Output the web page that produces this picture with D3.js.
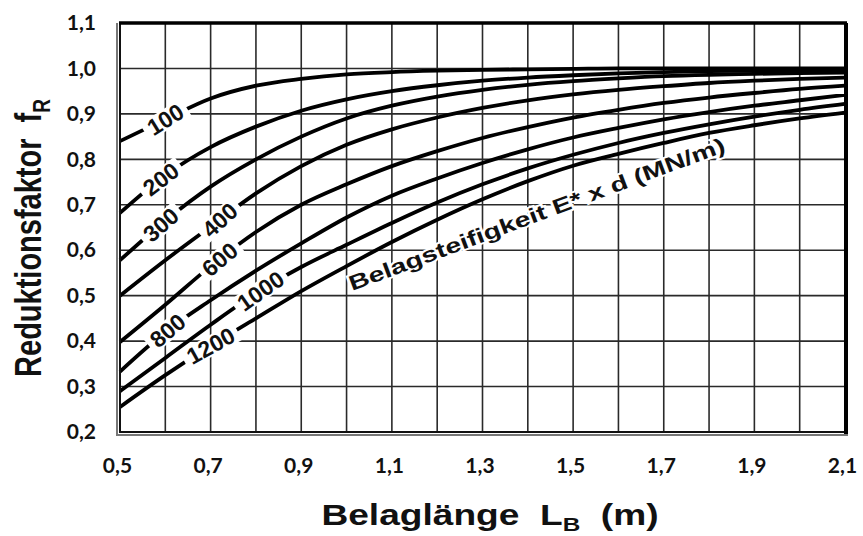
<!DOCTYPE html>
<html>
<head>
<meta charset="utf-8">
<script src="https://cdn.jsdelivr.net/npm/d3@7"></script>
<style>
 body { margin: 0; background: #fff; }
 svg { display: block; }
 .axis text { font-family: Lato, sans-serif; font-weight: bold; font-size: 21px; fill: #111; }
 .title { font-family: "Liberation Sans", Arial, sans-serif; font-weight: bold; fill: #111; }
</style>
</head>
<body>
<svg width="863" height="536"></svg>
<script>

// Belaglänge L_B (m), read every 0.1 m

var lengths = [0.5, 0.6, 0.7, 0.8, 0.9, 1.0, 1.1, 1.2, 1.3, 1.4, 1.5, 1.6, 1.7, 1.8, 1.9, 2.0, 2.1];

// Reduktionsfaktor f_R for each Belagsteifigkeit E* x d (MN/m).

var fR100  = [0.840, 0.888, 0.934, 0.962, 0.977, 0.987, 0.992, 0.995, 0.997, 0.998, 0.999, 1.000, 1.000, 1.000, 1.000, 1.000, 1.000];
var fR200  = [0.682, 0.765, 0.827, 0.872, 0.907, 0.932, 0.950, 0.963, 0.973, 0.980, 0.985, 0.989, 0.992, 0.994, 0.995, 0.996, 0.997];
var fR300  = [0.578, 0.665, 0.740, 0.800, 0.850, 0.890, 0.918, 0.938, 0.953, 0.964, 0.972, 0.978, 0.983, 0.986, 0.988, 0.990, 0.991];
var fR400  = [0.500, 0.578, 0.652, 0.725, 0.785, 0.832, 0.866, 0.892, 0.913, 0.930, 0.943, 0.953, 0.961, 0.968, 0.973, 0.977, 0.980];
var fR600  = [0.398, 0.480, 0.565, 0.640, 0.700, 0.745, 0.785, 0.818, 0.847, 0.871, 0.892, 0.909, 0.924, 0.936, 0.946, 0.955, 0.962];
var fR800  = [0.333, 0.420, 0.490, 0.555, 0.615, 0.672, 0.720, 0.758, 0.792, 0.822, 0.848, 0.869, 0.888, 0.904, 0.918, 0.930, 0.942];
var fR1000 = [0.290, 0.363, 0.436, 0.505, 0.563, 0.612, 0.660, 0.705, 0.745, 0.780, 0.810, 0.836, 0.858, 0.877, 0.894, 0.909, 0.922];
var fR1200 = [0.255, 0.325, 0.390, 0.450, 0.510, 0.565, 0.618, 0.667, 0.712, 0.752, 0.786, 0.812, 0.836, 0.858, 0.875, 0.890, 0.903];

var stiffness = ['100', '200', '300', '400', '600', '800', '1000', '1200'];
var curves = [fR100, fR200, fR300, fR400, fR600, fR800, fR1000, fR1200];

// Where each curve carries its label (L_B in m) and how the label is tilted.

var labelAt = [0.60, 0.59, 0.59, 0.72, 0.72, 0.605, 0.81, 0.70];
var labelAngle = [-32, -37, -41, -42, -40, -40, -35, -29];

// Tick labels.

var xTicks = [0.5, 0.7, 0.9, 1.1, 1.3, 1.5, 1.7, 1.9, 2.1];
var yTicks = [0.2, 0.3, 0.4, 0.5, 0.6, 0.7, 0.8, 0.9, 1.0, 1.1];
var xGrid = d3.range(0, 17).map(function(i) { return 0.5 + i / 10; });
var yGrid = d3.range(0, 10).map(function(i) { return 0.2 + i / 10; });

var series = stiffness.map(function(s, i) {
 return {
  name: s,
  values: lengths.map(function(l, j) { return {l: l, f: curves[i][j]}; }),
  at: labelAt[i],
  angle: labelAngle[i]
 };
});

var svg = d3.select('svg');
var plot = {left: 120, right: 845, top: 23, bottom: 432};

var x = d3.scaleLinear().domain([0.5, 2.1]).range([plot.left, plot.right]);
var y = d3.scaleLinear().domain([0.2, 1.1]).range([plot.bottom, plot.top]);

var comma = d3.formatLocale({decimal: ',', thousands: '.', grouping: [3], currency: ['', '']}).format('.1f');

// Grid

svg.append('g')
 .selectAll('line')
 .data(xGrid)
 .enter().append('line')
 .attr('x1', function(d) { return x(d); })
 .attr('x2', function(d) { return x(d); })
 .attr('y1', plot.top)
 .attr('y2', plot.bottom)
 .attr('stroke', '#2a2a2a')
 .attr('stroke-width', 1.6);

svg.append('g')
 .selectAll('line')
 .data(yGrid)
 .enter().append('line')
 .attr('x1', plot.left)
 .attr('x2', plot.right)
 .attr('y1', function(d) { return y(d); })
 .attr('y2', function(d) { return y(d); })
 .attr('stroke', '#2a2a2a')
 .attr('stroke-width', 1.6);

// Curves

var line = d3.line()
 .x(function(d) { return x(d.l); })
 .y(function(d) { return y(d.f); })
 .curve(d3.curveMonotoneX);

svg.append('g')
 .selectAll('path')
 .data(series)
 .enter().append('path')
 .attr('d', function(d) { return line(d.values); })
 .attr('fill', 'none')
 .attr('stroke', '#000')
 .attr('stroke-width', 3.8);

// Frame

svg.append('rect')
 .attr('x', plot.left).attr('y', plot.top)
 .attr('width', plot.right - plot.left).attr('height', plot.bottom - plot.top)
 .attr('fill', 'none').attr('stroke', '#111').attr('stroke-width', 2);
svg.append('line')
 .attr('x1', plot.left - 1).attr('x2', plot.right + 2).attr('y1', plot.top).attr('y2', plot.top)
 .attr('stroke', '#000').attr('stroke-width', 3.5);
svg.append('line')
 .attr('x1', plot.right + 1).attr('x2', plot.right + 1).attr('y1', plot.top).attr('y2', plot.bottom + 2)
 .attr('stroke', '#000').attr('stroke-width', 4);
svg.append('path')
 .attr('d', 'M' + (plot.left - 3) + ',' + plot.top + 'V' + (plot.bottom + 3) + 'H' + (plot.right + 3))
 .attr('fill', 'none').attr('stroke', '#777').attr('stroke-width', 2);

// Curve labels, sitting on the curve with a white gap round them

var valueAt = function(s, l) {
 var i = d3.bisector(function(d) { return d.l; }).left(s.values, l);
 var a = s.values[Math.max(i - 1, 0)], b = s.values[i];
 if (b.l === a.l) return b.f;
 return a.f + (b.f - a.f) * (l - a.l) / (b.l - a.l);
};

var labels = svg.append('g')
 .selectAll('g')
 .data(series)
 .enter().append('g')
 .attr('transform', function(d) { return 'translate(' + x(d.at) + ',' + y(valueAt(d, d.at)) + ') rotate(' + d.angle + ')'; });

labels.append('rect').attr('fill', '#fff');
labels.append('text')
 .attr('class', 'title')
 .attr('text-anchor', 'middle')
 .attr('dy', '0.36em')
 .style('font-size', '23px')
 .text(function(d) { return d.name; });
labels.each(function() {
 var g = d3.select(this);
 var b = g.select('text').node().getBBox();
 g.select('rect')
  .attr('x', b.x - 5).attr('y', b.y + 3)
  .attr('width', b.width + 10).attr('height', b.height - 6);
});

// Curve family caption

svg.append('text')
 .attr('class', 'title')
 .attr('transform', 'translate(' + x(1.012) + ',' + y(0.51) + ') rotate(-20.5)')
 .attr('textLength', 400)
 .attr('lengthAdjust', 'spacingAndGlyphs')
 .style('font-size', '21px')
 .attr('stroke', '#fff').attr('stroke-width', 4).attr('paint-order', 'stroke')
 .text('Belagsteifigkeit E* x d (MN/m)');

// Axes

var xAxis = svg.append('g')
 .attr('class', 'axis')
 .attr('transform', 'translate(0,' + plot.bottom + ')')
 .call(d3.axisBottom(x).tickValues(xTicks).tickFormat(comma).tickSize(0).tickPadding(26));
xAxis.select('.domain').remove();
xAxis.selectAll('text').attr('dx', -3);

var yAxis = svg.append('g')
 .attr('class', 'axis')
 .attr('transform', 'translate(' + plot.left + ',0)')
 .call(d3.axisLeft(y).tickValues(yTicks).tickFormat(comma).tickSize(0).tickPadding(24));
yAxis.select('.domain').remove();

// Axis titles, stretched sideways like the original

var xTitle = svg.append('text')
 .attr('class', 'title')
 .attr('transform', 'translate(490,525) scale(1.28,1)')
 .attr('text-anchor', 'middle')
 .style('font-size', '29px');
xTitle.append('tspan').text('Belaglänge\u00a0\u00a0L');
xTitle.append('tspan').attr('dy', 6).style('font-size', '19px').text('B');
xTitle.append('tspan').attr('dy', -6).text('\u00a0\u00a0(m)');

var yTitle = svg.append('text')
 .attr('class', 'title')
 .attr('transform', 'translate(41,238) scale(1.25,1) rotate(-90)')
 .attr('text-anchor', 'middle')
 .style('font-size', '29px');
yTitle.append('tspan').text('Reduktionsfaktor\u00a0\u00a0f');
yTitle.append('tspan').attr('dy', 7).style('font-size', '19px').text('R');

</script>
</body>
</html>
